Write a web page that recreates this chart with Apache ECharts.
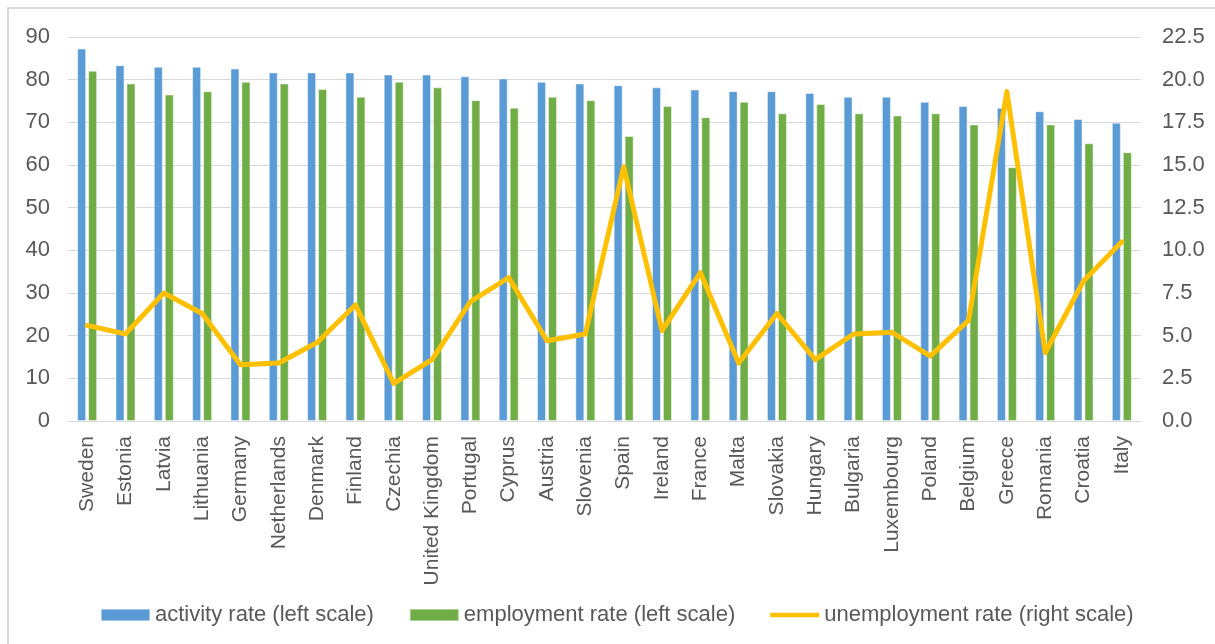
<!DOCTYPE html>
<html>
<head>
<meta charset="utf-8">
<script src="https://cdn.jsdelivr.net/npm/echarts@6/dist/echarts.min.js"></script>
<style>html,body{margin:0;padding:0;background:#fff;}#c{width:1215px;height:644px;}</style>
</head>
<body>
<div id="c"></div>
<script>
const categories = ["Sweden","Estonia","Latvia","Lithuania","Germany","Netherlands","Denmark","Finland","Czechia","United Kingdom","Portugal","Cyprus","Austria","Slovenia","Spain","Ireland","France","Malta","Slovakia","Hungary","Bulgaria","Luxembourg","Poland","Belgium","Greece","Romania","Croatia","Italy"];
const activityRate = [87.3,83.4,83.0,83.0,82.6,81.7,81.7,81.7,81.2,81.2,80.8,80.3,79.5,79.1,78.7,78.2,77.7,77.3,77.3,76.9,76.0,76.0,74.8,73.8,73.4,72.6,70.8,69.9];
const employmentRate = [82.1,79.1,76.5,77.3,79.5,79.1,77.8,76.0,79.5,78.2,75.2,73.4,76.0,75.2,66.8,73.8,71.2,74.8,72.1,74.3,72.1,71.6,72.1,69.5,59.5,69.5,65.1,63.0];
const unemploymentRate = [5.6,5.1,7.5,6.3,3.3,3.4,4.6,6.8,2.2,3.6,7.0,8.4,4.7,5.1,14.9,5.3,8.7,3.4,6.3,3.6,5.1,5.2,3.8,5.9,19.3,4.0,8.2,10.5];
const seriesNames = ["activity rate (left scale)","employment rate (left scale)","unemployment rate (right scale)"];

const FONT = '"Liberation Sans", Arial, sans-serif';
const TXT = '#595959';
const chart = echarts.init(document.getElementById('c'), null, {renderer:'canvas'});
chart.setOption({
  animation:false,
  backgroundColor:'#fff',
  textStyle:{fontFamily:FONT},
  graphic:[{type:'rect', shape:{x:8,y:8,width:1300,height:1000}, style:{fill:'none', stroke:'#D9D9D9', lineWidth:2}, silent:true}],
  grid:{left:68, right:74, top:37, bottom:223, containLabel:false},
  legend:{
    left:95, top:599, itemWidth:49, itemHeight:12, itemGap:35,
    textStyle:{fontFamily:FONT, fontSize:22, color:TXT, padding:[0,0,0,0]},
    data:[
      {name:seriesNames[0], icon:'rect'},
      {name:seriesNames[1], icon:'rect'},
      {name:seriesNames[2], icon:'path://M0,0 L52,0 L52,5 L0,5 Z'}
    ]
  },
  xAxis:{
    type:'category', data:categories,
    axisLine:{lineStyle:{color:'#D9D9D9', width:1}},
    axisTick:{show:false},
    axisLabel:{interval:0, rotate:90, fontSize:21, color:TXT, fontFamily:FONT, margin:15}
  },
  yAxis:[
    {type:'value', min:0, max:90, interval:10,
     axisLine:{show:false}, axisTick:{show:false},
     splitLine:{lineStyle:{color:'#D9D9D9', width:1}},
     axisLabel:{fontSize:22, color:TXT, fontFamily:FONT, margin:18}},
    {type:'value', min:0, max:22.5, interval:2.5,
     axisLine:{show:false}, axisTick:{show:false}, splitLine:{show:false},
     axisLabel:{fontSize:22, color:TXT, fontFamily:FONT, margin:21, formatter:v=>v.toFixed(1)}}
  ],
  series:[
    {name:seriesNames[0], type:'bar', data:activityRate, barWidth:9, barGap:'22%',
     itemStyle:{color:'#5B9BD5', borderColor:'rgba(255,255,255,0.45)', borderWidth:1}},
    {name:seriesNames[1], type:'bar', data:employmentRate, barWidth:9,
     itemStyle:{color:'#70AD47', borderColor:'rgba(255,255,255,0.45)', borderWidth:1}},
    {name:seriesNames[2], type:'line', yAxisIndex:1, data:unemploymentRate, symbol:'none',
     lineStyle:{color:'#FFC000', width:5, join:'round', cap:'round'}, itemStyle:{color:'#FFC000'}}
  ]
});
</script>
</body>
</html>
